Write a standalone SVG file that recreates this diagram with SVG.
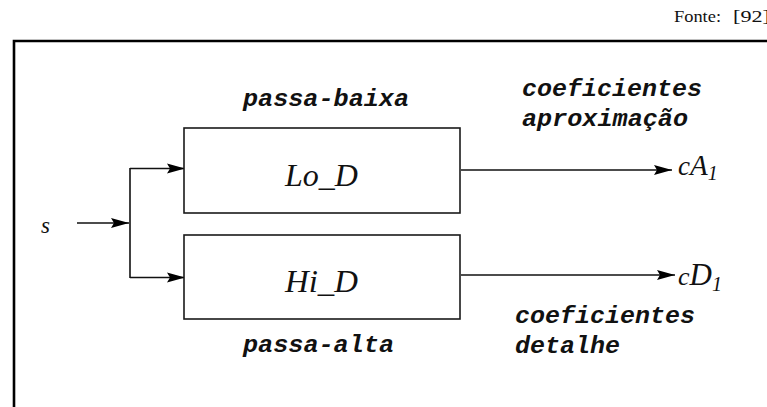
<svg xmlns="http://www.w3.org/2000/svg" width="767" height="407" viewBox="0 0 767 407">
  <style>
    .frame { fill: none; stroke: #000; stroke-width: 2.6; }
    .box { fill: #fff; stroke: #1a1a1a; stroke-width: 1.6; }
    .wire { fill: none; stroke: #111; stroke-width: 1.6; }
    .math { font-family: "Liberation Serif", "Times New Roman", serif; font-style: italic; fill: #111; }
    .tt { font-family: "Liberation Mono", "Courier New", monospace; font-style: italic; font-weight: bold; font-size: 24px; fill: #111; }
    .src { font-family: "Liberation Serif", "Times New Roman", serif; font-size: 17px; fill: #111; }
  </style>
  <defs>
    <marker id="arrow" markerUnits="userSpaceOnUse" markerWidth="20" markerHeight="12" refX="18" refY="6" orient="auto">
      <path d="M0,1 L18,6 L0,11 L3,6 Z" fill="#000"/>
    </marker>
  </defs>

  <rect width="767" height="407" fill="#fff"/>

  <!-- source note and frame -->
  <text class="src" x="674" y="22" textLength="47" lengthAdjust="spacingAndGlyphs">Fonte:</text>
  <text class="src" x="733" y="22" textLength="37" lengthAdjust="spacingAndGlyphs">[92]</text>
  <path class="frame" d="M14,407 L14,41 L767,41"/>

  <!-- connectors -->
  <g id="connectors">
    <line class="wire" x1="77" y1="223" x2="129" y2="223" marker-end="url(#arrow)"/>
    <line class="wire" x1="130" y1="168" x2="130" y2="278"/>
    <line class="wire" x1="130" y1="168.5" x2="185" y2="168.5" marker-end="url(#arrow)"/>
    <line class="wire" x1="130" y1="277.5" x2="185" y2="277.5" marker-end="url(#arrow)"/>
    <line class="wire" x1="461" y1="170" x2="672" y2="170" marker-end="url(#arrow)"/>
    <line class="wire" x1="461" y1="275" x2="675" y2="275" marker-end="url(#arrow)"/>
  </g>

  <!-- input signal -->
  <g id="input-s">
    <text class="math" x="41" y="233" font-size="23">s</text>
  </g>

  <!-- low-pass filter -->
  <g id="lo-d">
    <text class="tt" x="243" y="106" textLength="166" lengthAdjust="spacingAndGlyphs">passa-baixa</text>
    <rect class="box" x="184" y="128" width="276" height="85"/>
    <text class="math" x="285" y="186" font-size="31" textLength="73" lengthAdjust="spacingAndGlyphs">Lo_D</text>
  </g>

  <!-- high-pass filter -->
  <g id="hi-d">
    <rect class="box" x="184" y="235" width="276" height="84"/>
    <text class="math" x="285" y="292" font-size="31" textLength="73" lengthAdjust="spacingAndGlyphs">Hi_D</text>
    <text class="tt" x="243" y="352" textLength="151" lengthAdjust="spacingAndGlyphs">passa-alta</text>
  </g>

  <!-- approximation output -->
  <g id="out-ca1">
    <text class="tt" x="522" y="96" textLength="180" lengthAdjust="spacingAndGlyphs">coeficientes</text>
    <text class="tt" x="522" y="126" textLength="166" lengthAdjust="spacingAndGlyphs">aproximação</text>
    <text class="math" x="678" y="175" font-size="27">c<tspan font-size="29">A</tspan><tspan font-size="20" dy="5">1</tspan></text>
  </g>

  <!-- detail output -->
  <g id="out-cd1">
    <text class="math" x="678" y="285" font-size="26">c<tspan font-size="31">D</tspan><tspan font-size="20" dy="6">1</tspan></text>
    <text class="tt" x="515" y="323" textLength="180" lengthAdjust="spacingAndGlyphs">coeficientes</text>
    <text class="tt" x="515" y="353" textLength="105" lengthAdjust="spacingAndGlyphs">detalhe</text>
  </g>
</svg>
